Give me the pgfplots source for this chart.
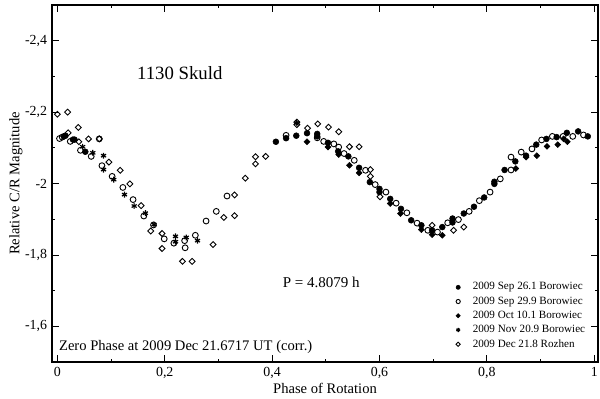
\documentclass[border=0pt]{standalone}
\usepackage{fontspec}
\setmainfont{Liberation Serif}
\usepackage{pgfplots}
\pgfplotsset{compat=1.18}
\usetikzlibrary{calc}

% light-curve of 1130 Skuld, one table per night
\pgfplotstableread{
ph mag
0.012 -2.132
0.015 -2.134
0.029 -2.123
0.032 -2.123
0.052 -2.089
0.407 -2.117
0.426 -2.127
0.445 -2.134
0.465 -2.141
0.484 -2.139
0.484 -2.132
0.504 -2.114
0.523 -2.090
0.542 -2.076
0.562 -2.044
0.582 -2.004
0.600 -1.985
0.600 -1.976
0.620 -1.957
0.640 -1.929
0.659 -1.897
0.678 -1.883
0.698 -1.869
0.717 -1.878
0.736 -1.902
0.736 -1.891
0.757 -1.916
0.776 -1.935
0.795 -1.961
0.814 -2.005
0.814 -1.999
0.833 -2.038
0.853 -2.062
0.873 -2.078
0.892 -2.109
0.911 -2.125
0.930 -2.130
0.949 -2.142
0.970 -2.146
0.988 -2.132
}\sepA

\pgfplotstableread{
ph mag
0.004 -2.126
0.009 -2.130
0.024 -2.118
0.043 -2.093
0.063 -2.076
0.078 -2.125
0.083 -2.050
0.102 -2.020
0.122 -1.989
0.141 -1.955
0.161 -1.909
0.179 -1.884
0.199 -1.845
0.217 -1.833
0.237 -1.840
0.238 -1.820
0.257 -1.855
0.277 -1.895
0.296 -1.922
0.316 -1.965
0.426 -2.135
0.484 -2.128
0.496 -2.118
0.515 -2.111
0.524 -2.102
0.534 -2.084
0.553 -2.065
0.574 -2.037
0.592 -1.997
0.612 -1.976
0.631 -1.945
0.651 -1.918
0.670 -1.889
0.690 -1.869
0.708 -1.864
0.727 -1.890
0.747 -1.899
0.767 -1.922
0.786 -1.952
0.806 -1.976
0.825 -2.013
0.845 -2.038
0.845 -2.074
0.864 -2.088
0.884 -2.097
0.902 -2.122
0.922 -2.132
0.942 -2.132
0.960 -2.132
0.980 -2.136
}\sepB

\pgfplotstableread{
ph mag
0.465 -2.117
0.504 -2.102
0.524 -2.081
0.544 -2.051
0.562 -2.030
0.620 -1.944
0.639 -1.916
0.678 -1.871
0.698 -1.857
0.717 -1.855
0.854 -2.042
0.873 -2.074
0.893 -2.078
0.912 -2.104
0.932 -2.109
0.943 -2.125
0.950 -2.117
}\octC

\pgfplotstableread{
ph mag
0.047 -2.103
0.066 -2.086
0.086 -2.078
0.086 -2.039
0.105 -2.011
0.125 -1.969
0.143 -1.937
0.164 -1.917
0.180 -1.885
0.220 -1.837
0.220 -1.852
0.240 -1.849
0.261 -1.840
0.446 -2.170
}\novD

\pgfplotstableread{
ph mag
0.000 -2.194
0.019 -2.200
0.020 -2.142
0.039 -2.157
0.040 -2.117
0.058 -2.125
0.078 -2.125
0.096 -2.060
0.117 -2.037
0.135 -1.999
0.156 -1.938
0.174 -1.867
0.195 -1.860
0.195 -1.818
0.233 -1.782
0.251 -1.782
0.290 -1.829
0.310 -1.905
0.330 -1.910
0.330 -1.968
0.350 -2.015
0.369 -2.055
0.369 -2.075
0.388 -2.076
0.446 -2.172
0.446 -2.165
0.466 -2.155
0.485 -2.167
0.505 -2.158
0.524 -2.145
0.544 -2.103
0.562 -2.103
0.583 -2.039
0.583 -2.020
0.601 -1.963
0.698 -1.883
0.738 -1.869
0.757 -1.878
}\decE

\begin{document}
\begin{tikzpicture}
\begin{axis}[
  name=ax,
  scale only axis,
  width=393pt, height=257pt,
  xmin=-0.01, xmax=1.007,
  ymin=-2.5, ymax=-1.5,
  y dir=reverse,
  axis line style={line width=0.9pt},
  xtick={0,0.2,...,1},
  minor xtick={0.1,0.3,0.5,0.7,0.9},
  ytick={-2.4,-2.2,-2,-1.8,-1.6},
  minor ytick={-2.3,-2.1,-1.9,-1.7},
  tick align=inside,
  major tick length=5pt,
  minor tick length=2.5pt,
  tick style={line width=0.6pt, black},
  /pgf/number format/use comma,
  /pgf/number format/assume math mode=true,
  ticklabel style={font=\fontsize{10}{12}\selectfont},
  xlabel={Phase of Rotation},
  ylabel={Relative C/R Magnitude},
  label style={font=\fontsize{10.5}{12}\selectfont},
  xlabel style={yshift=3pt},
  ylabel style={yshift=-5pt},
  legend style={draw=none, fill=none, at={(rel axis cs:0.737,0.235)}, anchor=north west,
    font=\fontsize{8}{9.5}\selectfont, row sep=-0.6pt, column sep=7pt, inner sep=1pt},
  legend image post style={every mark/.append style={scale=0.72}},
  legend cell align=left,
  every axis plot/.append style={only marks},
]
\addplot[mark=*, mark size=2.1pt, black] table[x=ph, y=mag] {\sepA};
\addlegendentry{2009 Sep 26.1 Borowiec}
\addplot[mark=o, mark size=2.1pt, black, mark options={line width=0.65pt}] table[x=ph, y=mag] {\sepB};
\addlegendentry{2009 Sep 29.9 Borowiec}
\addplot[mark=square*, mark size=1.5pt, black, mark options={rotate=45}] table[x=ph, y=mag] {\octC};
\addlegendentry{2009 Oct 10.1 Borowiec}
\addplot[mark=asterisk, mark size=2.1pt, black, mark options={line width=0.85pt}] table[x=ph, y=mag] {\novD};
\addlegendentry{2009 Nov 20.9 Borowiec}
\addplot[mark=square, mark size=1.5pt, black, mark options={rotate=45, line width=0.65pt}] table[x=ph, y=mag] {\decE};
\addlegendentry{2009 Dec 21.8 Rozhen}

\node[font=\fontsize{13.5}{15}\selectfont] at (rel axis cs:0.234,0.81) {1130 Skuld};
\node[font=\fontsize{10.8}{12}\selectfont] at (rel axis cs:0.493,0.224) {P = 4.8079 h};
\node[font=\fontsize{10.5}{12}\selectfont, anchor=west] at (rel axis cs:0.004,0.042) {Zero Phase at 2009 Dec 21.6717 UT (corr.)};
\end{axis}
\pgfresetboundingbox
\path ($(ax.south west)+(-37.44pt,-25.92pt)$) rectangle ($(ax.north east)+(1.44pt,3.6pt)$);
\end{tikzpicture}
\end{document}
